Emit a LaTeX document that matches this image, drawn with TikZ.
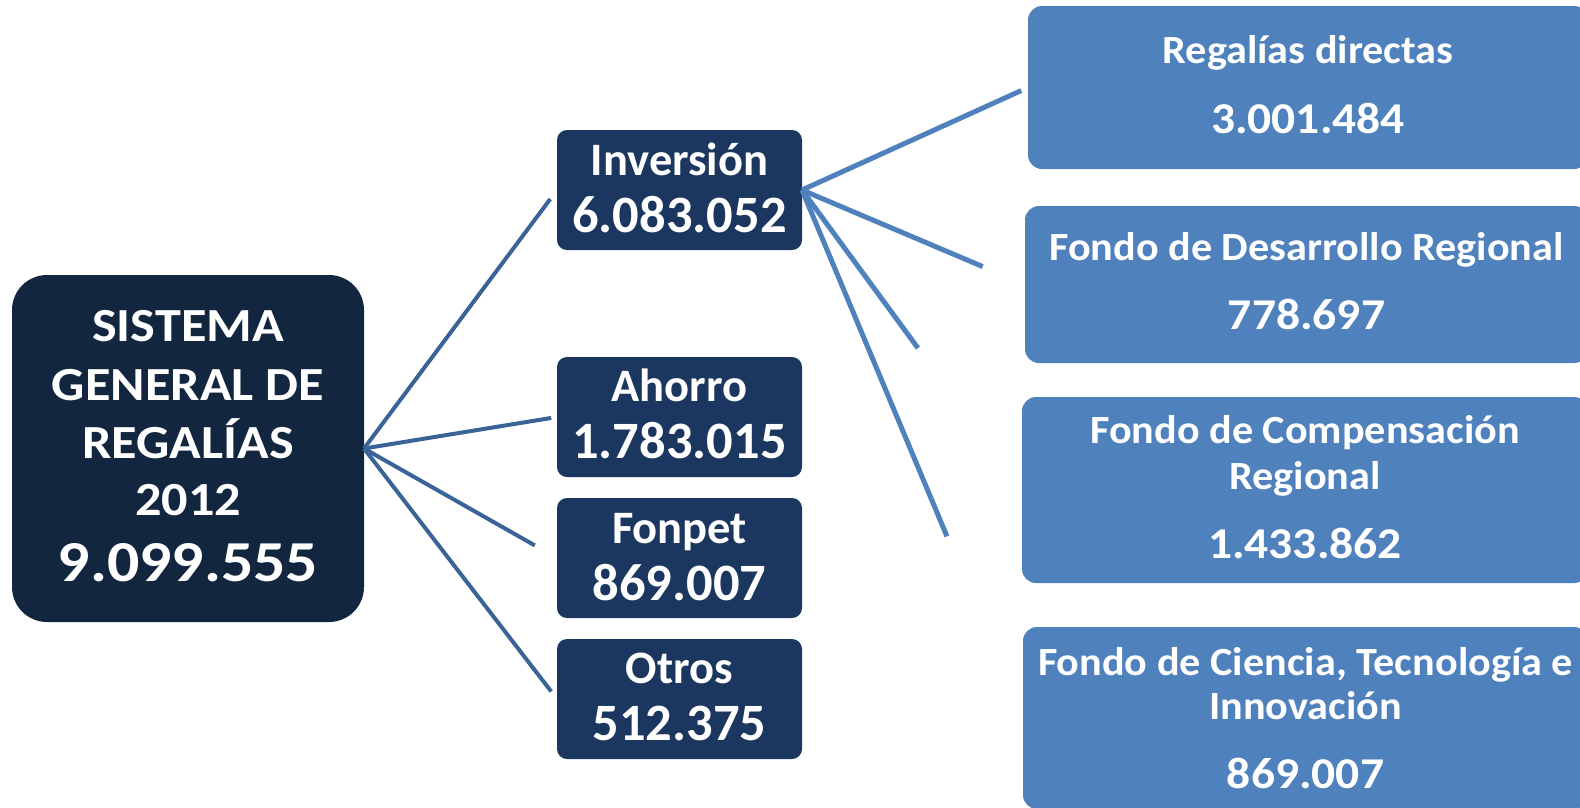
\documentclass[tikz,border=0pt]{standalone}
\usepackage{fontspec}
\setmainfont{Carlito}
\newfontfamily\fmain{Carlito}[FakeStretch=1.1]
\newfontfamily\fmid{Carlito}
\newfontfamily\fright{Carlito}[FakeStretch=1.055]
\newfontfamily\frightnum{Carlito}[FakeStretch=1.08]
\usetikzlibrary{calc}
\definecolor{mainfill}{HTML}{13263F}
\definecolor{midfill}{HTML}{1B375F}
\definecolor{rfill}{HTML}{4F81BD}
\definecolor{lline}{HTML}{3A6397}
\definecolor{rline}{HTML}{4F81BD}
\begin{document}
\begin{tikzpicture}[x=1pt,y=-1pt,
  mainbox/.style={fill=mainfill, rounded corners=35pt, inner sep=0pt, outer sep=0pt, minimum width=352pt, minimum height=347pt},
  midbox/.style={fill=midfill, rounded corners=10pt, inner sep=0pt, outer sep=0pt, minimum width=245pt, minimum height=120pt},
  rbox/.style={fill=rfill, rounded corners=14pt, inner sep=0pt, outer sep=0pt},
  txt/.style={text=white, anchor=base, inner sep=0pt, outer sep=0pt},
  maintxt/.style={txt, font=\fmain\bfseries\fontsize{47.5}{50}\selectfont},
  mainnum/.style={txt, font=\fmain\bfseries\fontsize{58}{60}\selectfont},
  midtxt/.style={txt, font=\fmid\bfseries\fontsize{46.5}{50}\selectfont},
  midnum/.style={txt, font=\fmid\bfseries\fontsize{52.5}{55}\selectfont},
  rtxt/.style={txt, font=\fright\bfseries\fontsize{40}{45}\selectfont},
  rnum/.style={txt, font=\frightnum\bfseries\fontsize{44}{48}\selectfont},
  leftline/.style={draw=lline, line width=4pt},
  rightline/.style={draw=rline, line width=5pt}
]
\useasboundingbox (0,0) rectangle (1580,807);
\clip (0,0) rectangle (1580,807);

% main box
\node[mainbox] (main) at (188,448.5) {};
\node[maintxt] (m1) at (188,341.7) {SISTEMA};
\node[maintxt] (m2) at (188,400) {GENERAL DE};
\node[maintxt] (m3) at (188,458) {REGALÍAS};
\node[maintxt] (m4) at (188,515) {2012};
\node[mainnum] (m5) at (188,581.7) {9.099.555};

% middle boxes
\node[midbox] (inv) at (679.5,190) {};
\node[midtxt] (invt) at (679.5,175) {Inversión};
\node[midnum] (invn) at (679.5,232) {6.083.052};

\node[midbox] (aho) at (679.5,417) {};
\node[midtxt] (ahot) at (679.5,401) {Ahorro};
\node[midnum] (ahon) at (679.5,458) {1.783.015};

\node[midbox] (fon) at (679.5,558) {};
\node[midtxt] (font) at (679.5,543) {Fonpet};
\node[midnum] (fonn) at (679.5,600) {869.007};

\node[midbox] (otr) at (679.5,699) {};
\node[midtxt] (otrt) at (679.5,683) {Otros};
\node[midnum] (otrn) at (679.5,740) {512.375};

% right boxes
\node[rbox, minimum width=560pt, minimum height=163pt] (reg) at (1308,87.5) {};
\node[rtxt] (regt) at (1308,63) {Regalías directas};
\node[rnum] (regn) at (1308,133) {3.001.484};

\node[rbox, minimum width=563pt, minimum height=157pt] (des) at (1306.5,284.5) {};
\node[rtxt] (dest) at (1306.5,260) {Fondo de Desarrollo Regional};
\node[rnum] (desn) at (1306.5,329) {778.697};

\node[rbox, minimum width=566pt, minimum height=186pt] (com) at (1305,490) {};
\node[rtxt] (comt1) at (1305,443) {Fondo de Compensación};
\node[rtxt] (comt2) at (1305,489) {Regional};
\node[rnum] (comn) at (1305,558) {1.433.862};

\node[rbox, minimum width=565pt, minimum height=182pt] (cie) at (1305.5,718) {};
\node[rtxt] (ciet1) at (1305.5,675) {Fondo de Ciencia, Tecnología e};
\node[rtxt] (ciet2) at (1305.5,719) {Innovación};
\node[rnum] (cien) at (1305.5,788) {869.007};

% connectors from main
\coordinate (eInv) at ($(main.east)!0.965!(inv.west)$);
\coordinate (eAho) at ($(main.east)!0.97!(aho.west)$);
\coordinate (eFon) at ($(main.east)!0.885!(fon.west)$);
\coordinate (eOtr) at ($(main.east)!0.97!(otr.west)$);
\draw[leftline] (main.east) -- (eInv);
\draw[leftline] (main.east) -- (eAho);
\draw[leftline] (main.east) -- (eFon);
\draw[leftline] (main.east) -- (eOtr);

% connectors from Inversión
\coordinate (eReg) at ($(inv.east)!0.97!(reg.west)$);
\coordinate (eDes) at ($(inv.east)!0.81!(des.west)$);
\coordinate (eCom) at ($(inv.east)!0.527!(com.west)$);
\coordinate (eCie) at ($(inv.east)!0.656!(cie.west)$);
\draw[rightline] (inv.east) -- (eReg);
\draw[rightline] (inv.east) -- (eDes);
\draw[rightline] (inv.east) -- (eCom);
\draw[rightline] (inv.east) -- (eCie);
\end{tikzpicture}
\end{document}
